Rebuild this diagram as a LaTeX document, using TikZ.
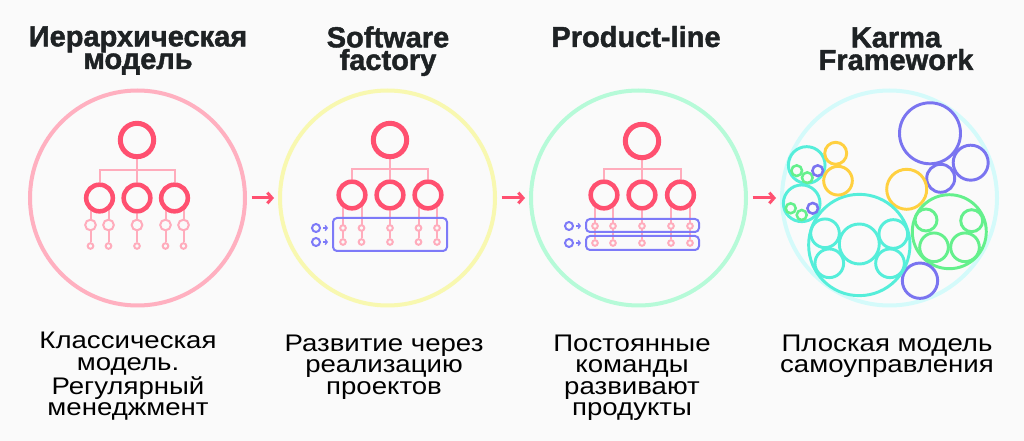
\documentclass[tikz,border=0pt]{standalone}
\usepackage{fontspec}
\setmainfont{Liberation Sans}
\newfontfamily\titlefont{Liberation Sans}[BoldFeatures={FakeBold=1.5}]
\newfontfamily\bodyfont{Liberation Sans}[FakeStretch=1.15]
\usetikzlibrary{arrows.meta,calc}
\definecolor{bgc}{RGB}{250,250,250}
\definecolor{redc}{RGB}{255,80,112}
\definecolor{pinkc}{RGB}{255,172,188}
\definecolor{bluec}{RGB}{125,122,248}
\definecolor{ringA}{RGB}{255,176,192}
\definecolor{ringB}{RGB}{248,248,176}
\definecolor{ringC}{RGB}{182,250,216}
\definecolor{ringD}{RGB}{212,250,250}
\definecolor{tealc}{RGB}{85,238,218}
\definecolor{greenc}{RGB}{100,240,140}
\definecolor{yellc}{RGB}{255,208,64}
\definecolor{purc}{RGB}{122,116,240}
\definecolor{txtc}{RGB}{30,34,36}
\pgfdeclarelayer{bg}\pgfdeclarelayer{lines}\pgfsetlayers{bg,lines,main}
\tikzset{
  ring/.style={circle, line width=3pt, minimum size=161.25pt, inner sep=0},
  topn/.style={circle, draw=redc, fill=bgc, line width=3.75pt, minimum size=25pt, inner sep=0},
  midn/.style={circle, draw=redc, fill=bgc, line width=3.4pt, minimum size=20pt, inner sep=0},
  smalln/.style={circle, draw=pinkc, fill=bgc, line width=1.5pt, minimum size=8pt, inner sep=0},
  tinyn/.style={circle, draw=pinkc, fill=bgc, line width=1.5pt, minimum size=4.2pt, inner sep=0},
  conn/.style={draw=pinkc, line width=1.5pt},
  bluen/.style={circle, draw=bluec, line width=1.5pt, minimum size=6pt, inner sep=0},
  team/.style={rectangle, draw=bluec, line width=1.5pt, rounded corners=3pt, inner sep=0},
  flow/.style={draw=redc, line width=2.25pt, -{Straight Barb[length=3.5pt,width=8pt]}},
  barb/.style={draw=bluec, line width=1pt, -{Straight Barb[length=1.5pt,width=4pt]}},
  bub/.style={circle, line width=2.2pt, inner sep=0},
  sbub/.style={circle, line width=1.9pt, inner sep=0},
  title/.style={anchor=base, align=center, inner sep=0, text=txtc, font=\titlefont\bfseries\fontsize{21.75pt}{17pt}\selectfont},
  body/.style={anchor=base, align=center, inner sep=0, text=black, font=\bodyfont\fontsize{18pt}{16.1pt}\selectfont},
}
\begin{document}
\begin{tikzpicture}[x=0.75pt,y=-0.75pt]
\begin{pgfonlayer}{bg}
\fill[bgc] (0,0) rectangle (1024,441);
\end{pgfonlayer}
\useasboundingbox (0,0) rectangle (1024,441);

% big rings
\node[ring, draw=ringA] (r1) at (137.5,198) {};
\node[ring, draw=ringB] (r2) at (387.5,198) {};
\node[ring, draw=ringC] (r3) at (638.5,198) {};
\node[ring, draw=ringD] (r4) at (889.5,198) {};
\draw[flow, shorten <=3.5pt, shorten >=3pt] (r1.east) -- (r2.west);
\draw[flow, shorten <=3.5pt, shorten >=3pt] (r2.east) -- (r3.west);
\draw[flow, shorten <=3.5pt, shorten >=3pt] (r3.east) -- (r4.west);

% titles (anchor = baseline of last line)
\node[title] (t1) at (138,69) {Иерархическая\\модель};
\node[title] (t2) at (388,70) {Software\\factory};
\node[title] (t3) at (636,47) {Product-line};
\node[title] (t4) at (896,70) {Karma\\Framework};

% bottom texts (anchor = baseline of last line)
\node[body] (d1) at (128,415.5) {Классическая\\модель.\\Регулярный\\менеджмент};
\node[body] (d2) at (384,394) {Развитие через\\реализацию\\проектов};
\node[body] (d3) at (632,415.5) {Постоянные\\команды\\развивают\\продукты};
\node[body] (d4) at (887,372.5) {Плоская модель\\самоуправления};

% ---------- hierarchy 1 ----------
\begin{scope}[shift={(137,0)}]
\node[topn] (a0) at (0,140) {};
\node[midn] (a1) at (-37.5,198) {};
\node[midn] (a2) at (0,198) {};
\node[midn] (a3) at (37.5,198) {};
\coordinate (abar) at (0,170);
\node[smalln] (as1) at (-46.5,225) {};
\node[smalln] (as2) at (-28.5,225) {};
\node[smalln] (as3) at (0,225) {};
\node[smalln] (as4) at (28.5,225) {};
\node[smalln] (as5) at (46.5,225) {};
\node[tinyn] (at1) at (-46.5,246) {};
\node[tinyn] (at2) at (-28.5,246) {};
\node[tinyn] (at3) at (0,246) {};
\node[tinyn] (at4) at (28.5,246) {};
\node[tinyn] (at5) at (46.5,246) {};
\end{scope}
\begin{pgfonlayer}{lines}
\draw[conn] (a0) -- (a2);
\draw[conn] (a1) -- (a1 |- abar) -- (a3 |- abar) -- (a3);
\draw[conn] (at1) -- (at1 |- a1);
\draw[conn] (at2) -- (at2 |- a1);
\draw[conn] (at3) -- (a2);
\draw[conn] (at4) -- (at4 |- a3);
\draw[conn] (at5) -- (at5 |- a3);
\end{pgfonlayer}

% ---------- hierarchy 2 ----------
\begin{scope}[shift={(390,0)}]
\node[topn] (b0) at (0,140) {};
\node[midn] (b1) at (-38,195) {};
\node[midn] (b2) at (0,195) {};
\node[midn] (b3) at (38,195) {};
\coordinate (bbar) at (0,169);
\node[team, minimum width=85.5pt, minimum height=24.75pt] (bt) at (0,234.5) {};
\node[tinyn] (bs1) at (-47,228) {};
\node[tinyn] (bs2) at (-28.5,228) {};
\node[tinyn] (bs3) at (0,228) {};
\node[tinyn] (bs4) at (28.5,228) {};
\node[tinyn] (bs5) at (47,228) {};
\node[tinyn] (bu1) at (-47,242) {};
\node[tinyn] (bu2) at (-28.5,242) {};
\node[tinyn] (bu3) at (0,242) {};
\node[tinyn] (bu4) at (28.5,242) {};
\node[tinyn] (bu5) at (47,242) {};
\node[bluen] (bc1) at (-74,228) {};
\node[bluen] (bc2) at (-74,242) {};
\end{scope}
\begin{pgfonlayer}{lines}
\draw[conn] (b0) -- (b2);
\draw[conn] (b1) -- (b1 |- bbar) -- (b3 |- bbar) -- (b3);
\draw[conn] (bu1) -- (bu1 |- b1);
\draw[conn] (bu2) -- (bu2 |- b1);
\draw[conn] (bu3) -- (b2);
\draw[conn] (bu4) -- (bu4 |- b3);
\draw[conn] (bu5) -- (bu5 |- b3);
\end{pgfonlayer}
\draw[barb, shorten <=1.5pt, shorten >=3pt] (bc1) -- (bc1 -| bt.west);
\draw[barb, shorten <=1.5pt, shorten >=3pt] (bc2) -- (bc2 -| bt.west);

% ---------- hierarchy 3 ----------
\begin{scope}[shift={(642,0)}]
\node[topn] (c0) at (0,141) {};
\node[midn] (c1) at (-38,195) {};
\node[midn] (c2) at (0,195) {};
\node[midn] (c3) at (38.5,195) {};
\coordinate (cbar) at (0,169);
\node[team, minimum width=84.75pt, minimum height=9.75pt] (ct1) at (0.5,225.5) {};
\node[team, minimum width=84.75pt, minimum height=10.5pt] (ct2) at (0.5,243) {};
\node[tinyn] (cs1) at (-47,226) {};
\node[tinyn] (cs2) at (-29,226) {};
\node[tinyn] (cs3) at (0,226) {};
\node[tinyn] (cs4) at (29,226) {};
\node[tinyn] (cs5) at (48,226) {};
\node[tinyn] (cu1) at (-47,243) {};
\node[tinyn] (cu2) at (-29,243) {};
\node[tinyn] (cu3) at (0,243) {};
\node[tinyn] (cu4) at (29,243) {};
\node[tinyn] (cu5) at (48,243) {};
\node[bluen] (cc1) at (-73,226) {};
\node[bluen] (cc2) at (-73,243) {};
\end{scope}
\begin{pgfonlayer}{lines}
\draw[conn] (c0) -- (c2);
\draw[conn] (c1) -- (c1 |- cbar) -- (c3 |- cbar) -- (c3);
\draw[conn] (cu1) -- (cu1 |- c1);
\draw[conn] (cu2) -- (cu2 |- c1);
\draw[conn] (cu3) -- (c2);
\draw[conn] (cu4) -- (cu4 |- c3);
\draw[conn] (cu5) -- (cu5 |- c3);
\end{pgfonlayer}
\draw[barb, shorten <=1.5pt, shorten >=3pt] (cc1) -- (cc1 -| ct1.west);
\draw[barb, shorten <=1.5pt, shorten >=3pt] (cc2) -- (cc2 -| ct2.west);

% ---------- karma bubbles ----------
\node[bub, draw=purc, minimum size=45.75pt] (p1) at (930,133.3) {};
\node[bub, draw=purc, minimum size=26.25pt] (p2) at (970.7,162.7) {};
\node[bub, draw=purc, minimum size=21pt] (p3) at (940.7,178.3) {};
\node[bub, draw=yellc, minimum size=30pt] (y1) at (906.7,189.3) {};
\node[bub, draw=greenc, minimum size=55.5pt] (g0) at (949.3,231.7) {};
\node[bub, draw=greenc, minimum size=16.5pt] (g1) at (926,220) {};
\node[bub, draw=greenc, minimum size=16.5pt] (g2) at (971.7,220.7) {};
\node[bub, draw=greenc, minimum size=21.5pt] (g3) at (934,247.3) {};
\node[bub, draw=greenc, minimum size=21.5pt] (g4) at (965,247.3) {};
\node[bub, draw=purc, minimum size=26.5pt] (p4) at (920,280.7) {};
\node[bub, draw=tealc, minimum size=76pt] (k0) at (859.3,245) {};
\node[bub, draw=tealc, minimum size=21.5pt] (k1) at (825,233.3) {};
\node[bub, draw=tealc, minimum size=30pt] (k2) at (859.3,244) {};
\node[bub, draw=tealc, minimum size=21.5pt] (k3) at (893.3,234) {};
\node[bub, draw=tealc, minimum size=21.5pt] (k4) at (829.3,263.3) {};
\node[bub, draw=tealc, minimum size=21.5pt] (k5) at (890,263.3) {};
\node[bub, draw=tealc, minimum size=27.5pt] (m0) at (806.7,165) {};
\node[sbub, draw=greenc, minimum size=8pt] (m1) at (796.7,170.7) {};
\node[sbub, draw=greenc, minimum size=8pt] (m2) at (807.3,177.7) {};
\node[sbub, draw=purc, minimum size=8pt] (m3) at (817.7,170.7) {};
\node[bub, draw=tealc, minimum size=27.5pt] (n0) at (801.7,203.3) {};
\node[sbub, draw=greenc, minimum size=7.5pt] (n1) at (790.7,208.3) {};
\node[sbub, draw=greenc, minimum size=7.5pt] (n2) at (801.7,215) {};
\node[sbub, draw=purc, minimum size=8pt] (n3) at (812.7,208.3) {};
\node[bub, draw=yellc, minimum size=16.5pt] (y2) at (835.7,153.3) {};
\node[bub, draw=yellc, minimum size=21.5pt] (y3) at (838,180.7) {};
\end{tikzpicture}
\end{document}
